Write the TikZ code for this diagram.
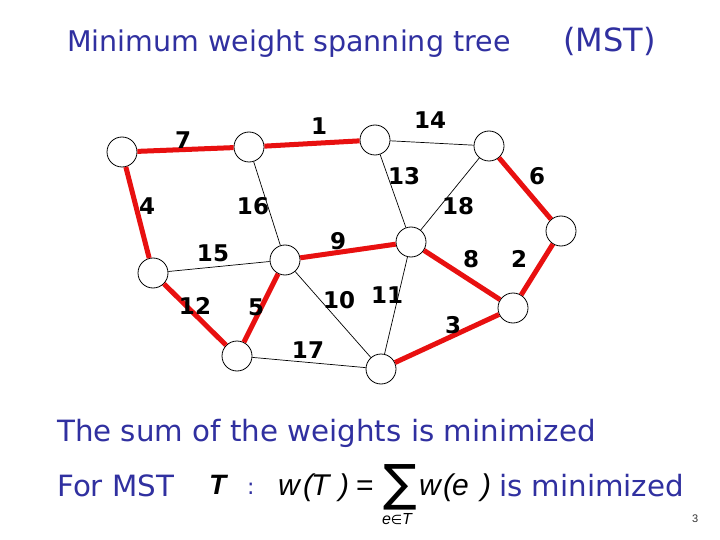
\documentclass[tikz,border=0pt]{standalone}
\usepackage{fontspec}
\setmainfont{DejaVu Sans}
\newfontfamily\lblfont{DejaVu Sans}
\newfontfamily\fmfont{Liberation Sans}
\newfontfamily\symfont{DejaVu Sans}
\definecolor{ttblue}{RGB}{48,48,160}
\definecolor{mstred}{RGB}{232,16,16}
\begin{document}
\begin{tikzpicture}[x=1pt,y=-1pt,
  vtx/.style={circle,draw=black,fill=white,line width=0.8pt,minimum size=30pt,inner sep=0pt},
  edg/.style={draw=black,line width=0.7pt},
  mst/.style={draw=mstred,line width=5pt},
  wt/.style={font=\lblfont\bfseries\fontsize{23}{23}\selectfont,inner sep=0pt},
  ttl/.style={text=ttblue,anchor=base west,inner sep=0pt,font=\fontsize{28.5}{28.5}\selectfont},
  body/.style={text=ttblue,anchor=base west,inner sep=0pt,font=\fontsize{29.3}{29.3}\selectfont},
  fm/.style={text=black,anchor=base west,inner sep=0pt,font=\fmfont\itshape\fontsize{30}{30}\selectfont}]
\useasboundingbox[fill=white] (0,0) rectangle (720,540);
% vertices
\node[vtx] (A) at (122,152) {};
\node[vtx] (B) at (249,147) {};
\node[vtx] (C) at (375,140) {};
\node[vtx] (D) at (489,146) {};
\node[vtx] (E) at (561,231) {};
\node[vtx] (F) at (153,273) {};
\node[vtx] (G) at (285,260) {};
\node[vtx] (H) at (411,242) {};
\node[vtx] (I) at (513,308) {};
\node[vtx] (J) at (237,356) {};
\node[vtx] (K) at (381,369) {};
% non-tree edges
\draw[edg] (C) -- (D);
\draw[edg] (B) -- (G);
\draw[edg] (C) -- (H);
\draw[edg] (D) -- (H);
\draw[edg] (F) -- (G);
\draw[edg] (G) -- (K);
\draw[edg] (H) -- (K);
\draw[edg] (J) -- (K);
% tree edges
\draw[mst] (A) -- (B);
\draw[mst] (B) -- (C);
\draw[mst] (A) -- (F);
\draw[mst] (D) -- (E);
\draw[mst] (G) -- (H);
\draw[mst] (H) -- (I);
\draw[mst] (E) -- (I);
\draw[mst] (F) -- (J);
\draw[mst] (G) -- (J);
\draw[mst] (K) -- (I);
% weights
\node[wt] (w7) at (183,140) {7};
\node[wt] (w1) at (319,126) {1};
\node[wt] (w14) at (430,120) {14};
\node[wt] (w13) at (404,176) {13};
\node[wt] (w6) at (537,176) {6};
\node[wt] (w4) at (147,206) {4};
\node[wt] (w16) at (253,206) {16};
\node[wt] (w18) at (458,206) {18};
\node[wt] (w15) at (213,253) {15};
\node[wt] (w9) at (338,241) {9};
\node[wt] (w8) at (471,259) {8};
\node[wt] (w2) at (519,259) {2};
\node[wt] (w12) at (195,306) {12};
\node[wt] (w5) at (256,307) {5};
\node[wt] (w10) at (339,300) {10};
\node[wt] (w11) at (387,295) {11};
\node[wt] (w3) at (453,325) {3};
\node[wt] (w17) at (308,350) {17};
% texts
\node[ttl] (title) at (67,52) {Minimum weight spanning tree};
\node[ttl,font=\fontsize{32}{32}\selectfont] (mst) at (563,52) {(MST)};
\node[body] (sum) at (57,441) {The sum of the weights is minimized};
\node[body] (for) at (57,496) {For MST};
\node[anchor=base west,inner sep=0pt,font=\fmfont\bfseries\itshape\fontsize{28}{28}\selectfont] (tv) at (209,494) {T};
\node[body,font=\fontsize{22}{22}\selectfont] (colon) at (247,494) {:};
\node[fm] (w1f) at (278,495) {w};
\node[fm] (lp1) at (303,495) {(};
\node[fm] (tt) at (311,495) {T};
\node[fm] (rp1) at (339,495) {)};
\node[fm,font=\fmfont\fontsize{30}{30}\selectfont] (eq) at (356,495) {=};
\node[inner sep=0pt,font=\symfont\fontsize{50}{50}\selectfont] (sg) at (400,487) {∑};
\node[fm] (w2f) at (419,495) {w};
\node[fm] (lp2) at (443,495) {(};
\node[fm] (ee) at (452,495) {e};
\node[fm] (rp2) at (481,495) {)};
\node[inner sep=0pt,font=\fmfont\itshape\fontsize{16}{16}\selectfont] (sub) at (397,519) {e{\symfont\upshape\fontsize{13}{13}\selectfont ∈}T};
\node[body] (ism) at (499,496) {is minimized};
\node[anchor=base west,inner sep=0pt,font=\fmfont\fontsize{11}{11}\selectfont,text=black!80] (pg) at (692,522) {3};
\end{tikzpicture}
\end{document}
